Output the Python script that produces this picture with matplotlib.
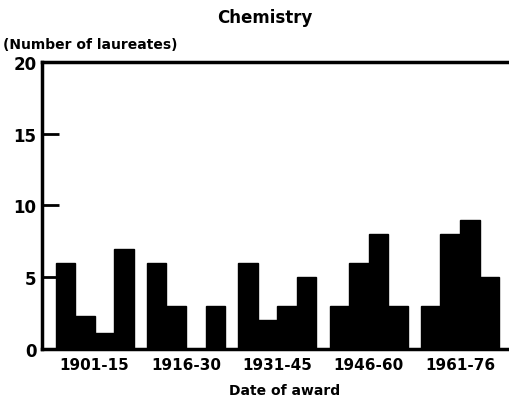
import numpy as np
import matplotlib
matplotlib.use("Agg")
import matplotlib.pyplot as plt

# -----------------------------
# Data
# -----------------------------
periods = ["1901-15", "1916-30", "1931-45", "1946-60", "1961-76"]
bar1 = [6, 6, 6, 3, 3]
bar2 = [2.3, 3, 2, 6, 8]
bar3 = [1.1, 0, 3, 8, 9]
bar4 = [7, 3, 5, 3, 5]
yticks = [0, 5, 10, 15, 20]

plt.rcParams["font.family"] = ["DejaVu Sans"]
plt.rcParams["font.weight"] = "bold"

fig = plt.figure(figsize=(5.1, 4.06), dpi=100)
ax = fig.add_axes([0.082, 0.138, 0.914, 0.707])

group_step = 4.67
x0 = np.arange(len(periods)) * group_step
for j, vals in enumerate([bar1, bar2, bar3, bar4]):
    ax.bar(x0 + j, vals, width=1.0, align="edge", color="black", edgecolor="black")

ax.set_xlim(-0.7, x0[-1] + 4.45)
ax.set_ylim(0, 20)
ax.set_yticks(yticks)
ax.set_xticks(x0 + 2)
ax.set_xticklabels(periods)

ax.tick_params(axis="y", direction="in", length=12, width=2, labelsize=12, pad=4)
ax.tick_params(axis="x", length=0, labelsize=11, pad=6)

for s in ["left", "top", "bottom"]:
    ax.spines[s].set_linewidth(2.5)
ax.spines["right"].set_visible(False)

ax.set_xlabel("Date of award", fontsize=10, fontweight="bold")
ax.xaxis.set_label_coords(0.52, -0.12)

fig.text(0.52, 0.955, "Chemistry", ha="center", va="center", fontsize=12, fontweight="bold")
fig.text(0.005, 0.888, "(Number of laureates)", ha="left", va="center", fontsize=10, fontweight="bold")

fig.savefig("out.png", dpi=100)
